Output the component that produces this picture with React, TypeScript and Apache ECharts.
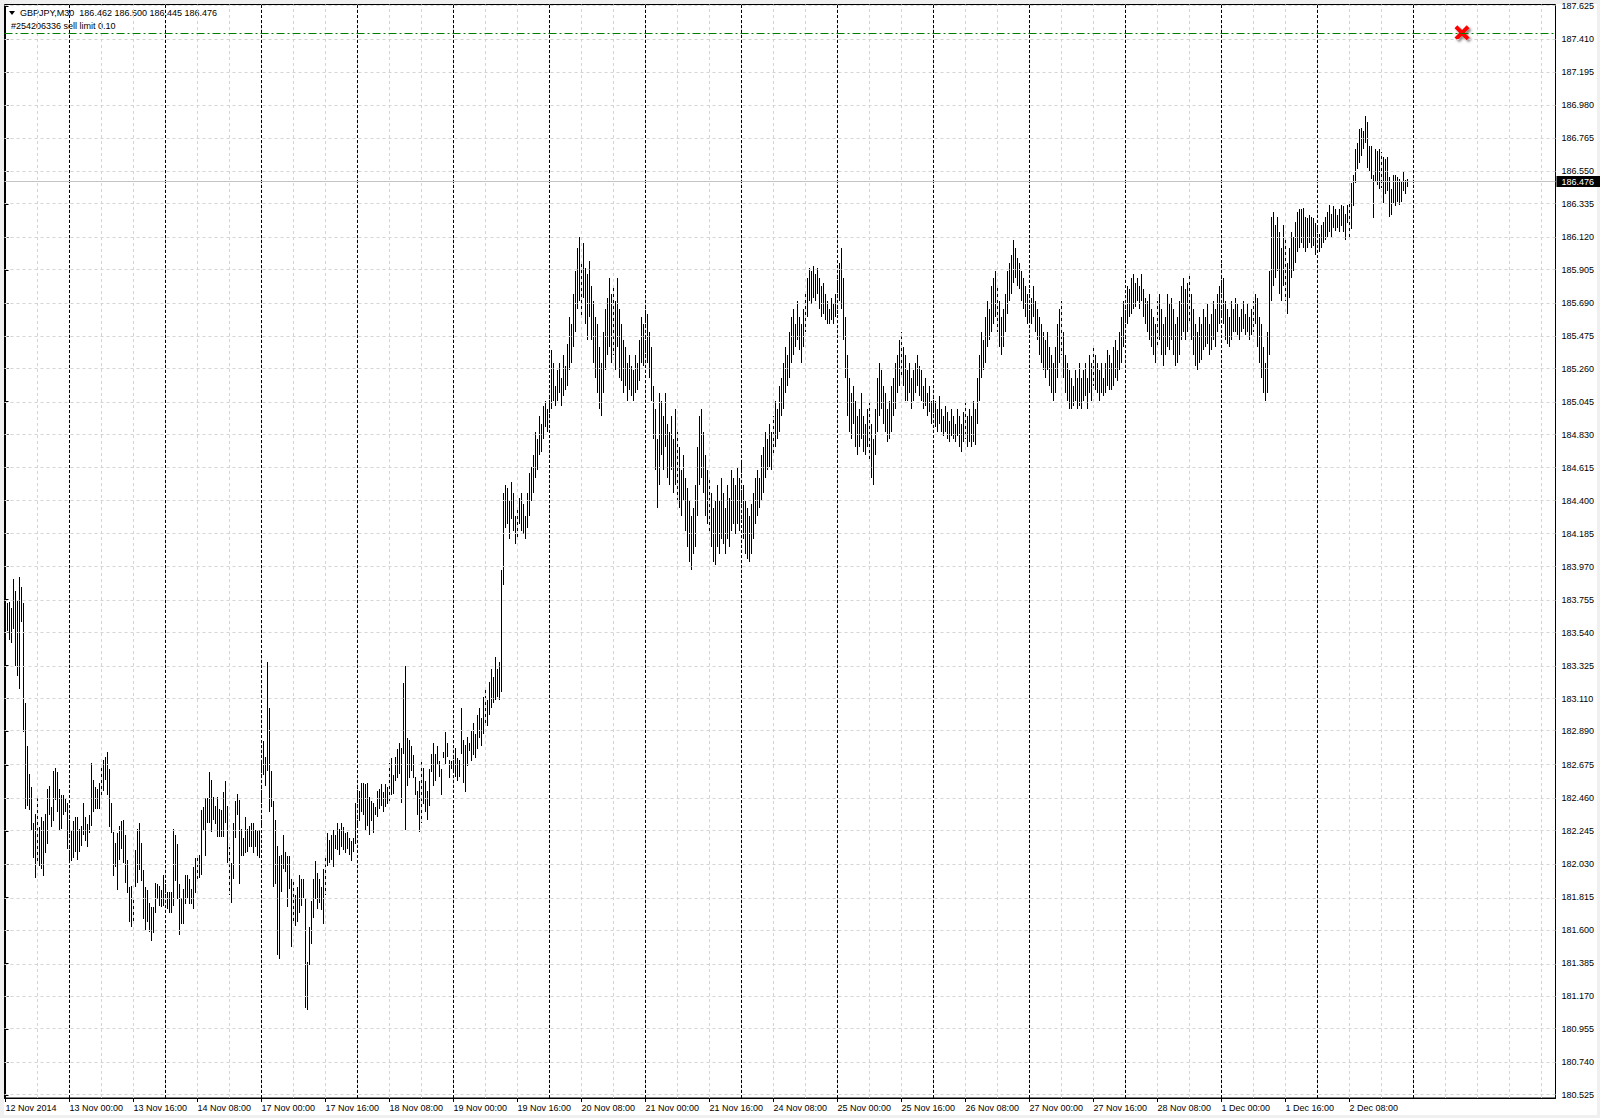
import React, { useEffect, useRef } from "react";
import * as echarts from "echarts";

// ---- data: high / low of each M30 bar (GBPJPY), bar index 0 = 12 Nov 2014 08:00 ----
const highs = [
  183.68,183.73,183.74,183.70,183.89,183.81,183.75,183.90,183.84,183.73,
  183.08,182.80,182.62,182.53,182.30,182.36,182.48,182.27,182.34,182.31,
  182.36,182.52,182.54,182.40,182.64,182.66,182.63,182.52,182.48,182.48,
  182.46,182.43,182.37,182.25,182.31,182.34,182.34,182.26,182.28,182.43,
  182.34,182.29,182.35,182.69,182.58,182.53,182.52,182.56,182.66,182.71,
  182.73,182.76,182.65,182.43,182.24,182.17,182.23,182.28,182.31,182.32,
  182.22,182.06,181.88,181.89,181.81,182.12,182.26,182.30,182.17,181.99,
  181.88,181.86,181.78,181.75,181.75,181.91,181.90,181.89,181.86,181.96,
  181.90,181.85,181.85,181.85,182.26,182.22,182.16,181.90,181.81,181.87,
  181.96,181.96,181.93,181.87,182.01,182.07,182.09,182.09,182.38,182.40,
  182.46,182.46,182.63,182.58,182.47,182.41,182.47,182.39,182.38,182.50,
  182.57,182.41,182.14,182.04,182.30,182.44,182.49,182.45,182.26,182.20,
  182.34,182.26,182.28,182.30,182.30,182.25,182.25,182.25,182.71,182.83,
  182.73,183.35,183.05,182.64,182.44,182.32,182.15,182.08,182.09,182.22,
  182.11,182.08,182.08,181.93,181.93,181.83,181.88,181.96,181.93,181.93,
  181.81,181.39,181.62,181.79,181.93,182.05,181.97,181.93,181.88,182.00,
  182.09,182.23,182.19,182.22,182.25,182.22,182.30,182.26,182.30,182.27,
  182.23,182.24,182.20,182.18,182.20,182.43,182.53,182.51,182.56,182.56,
  182.55,182.56,182.47,182.44,182.43,182.40,182.51,182.52,182.55,182.50,
  182.55,182.53,182.69,182.72,182.61,182.73,182.78,182.82,182.79,183.21,
  183.32,182.85,182.84,182.80,182.74,182.60,182.51,182.57,182.71,182.66,
  182.57,182.51,182.65,182.75,182.82,182.75,182.80,182.70,182.65,182.76,
  182.89,182.82,182.71,182.70,182.75,182.79,182.72,182.71,183.05,182.84,
  182.81,182.86,182.82,182.90,182.95,182.88,183.00,183.05,182.98,183.12,
  183.18,183.10,183.22,183.30,183.25,183.38,183.30,183.35,183.95,184.45,
  184.50,184.48,184.40,184.52,184.45,184.30,184.35,184.42,184.45,184.38,
  184.30,184.45,184.58,184.62,184.70,184.85,184.80,184.95,184.90,185.02,
  185.05,185.00,185.12,185.38,185.30,185.15,185.25,185.30,185.20,185.35,
  185.28,185.42,185.60,185.55,185.75,185.90,186.05,186.12,185.95,186.08,
  185.92,185.88,185.96,185.80,185.70,185.60,185.55,185.40,185.30,185.50,
  185.65,185.72,185.85,185.75,185.80,185.70,185.85,185.65,185.55,185.45,
  185.40,185.30,185.35,185.28,185.25,185.35,185.30,185.45,185.60,185.55,
  185.70,185.62,185.50,185.40,185.15,185.00,184.80,185.10,185.05,184.95,
  185.10,184.90,184.85,184.95,184.80,185.00,184.85,184.75,184.60,184.70,
  184.55,184.48,184.40,184.30,184.35,184.50,184.75,184.95,185.00,184.85,
  184.70,184.60,184.55,184.45,184.35,184.40,184.50,184.40,184.55,184.45,
  184.35,184.50,184.42,184.60,184.55,184.50,184.62,184.55,184.65,184.50,
  184.40,184.35,184.30,184.38,184.45,184.55,184.60,184.55,184.70,184.75,
  184.85,184.80,184.90,184.85,184.95,185.05,185.00,185.15,185.20,185.30,
  185.40,185.35,185.50,185.60,185.65,185.55,185.70,185.60,185.55,185.65,
  185.75,185.85,185.92,185.90,185.93,185.88,185.92,185.85,185.80,185.82,
  185.75,185.70,185.65,185.72,185.68,185.75,185.85,185.95,186.05,185.85,
  185.60,185.35,185.20,185.10,185.15,185.05,184.95,185.00,185.10,184.95,
  184.90,185.00,185.05,184.90,184.80,185.00,185.20,185.30,185.25,185.15,
  185.10,185.00,185.05,185.15,185.20,185.30,185.35,185.45,185.50,185.40,
  185.35,185.25,185.30,185.20,185.25,185.30,185.35,185.28,185.25,185.15,
  185.20,185.10,185.15,185.05,185.10,185.05,185.00,185.08,185.00,184.95,
  185.02,184.98,184.92,185.00,184.95,184.90,185.00,184.95,184.90,184.98,
  185.05,184.95,185.00,184.95,185.05,185.00,185.20,185.35,185.50,185.45,
  185.60,185.70,185.65,185.80,185.85,185.90,185.80,185.70,185.60,185.65,
  185.75,185.90,185.95,186.00,186.10,186.05,185.98,185.95,185.90,185.85,
  185.80,185.75,185.78,185.72,185.80,185.70,185.65,185.60,185.55,185.50,
  185.45,185.50,185.40,185.35,185.30,185.40,185.55,185.65,185.70,185.50,
  185.35,185.30,185.25,185.20,185.15,185.25,185.20,185.30,185.20,185.25,
  185.30,185.20,185.35,185.30,185.40,185.35,185.30,185.25,185.30,185.20,
  185.30,185.38,185.35,185.30,185.40,185.45,185.38,185.50,185.60,185.70,
  185.72,185.80,185.78,185.85,185.88,185.82,185.85,185.80,185.88,185.78,
  185.72,185.70,185.75,185.65,185.60,185.55,185.70,185.75,185.65,185.55,
  185.60,185.75,185.68,185.72,185.65,185.55,185.60,185.70,185.80,185.85,
  185.78,185.82,185.87,185.75,185.65,185.55,185.50,185.60,185.55,185.65,
  185.60,185.68,185.55,185.62,185.70,185.65,185.75,185.80,185.95,185.85,
  185.70,185.65,185.60,185.70,185.65,185.72,185.68,185.60,185.65,185.70,
  185.62,185.68,185.60,185.65,185.70,185.75,185.72,185.60,185.55,185.40,
  185.30,185.50,185.90,186.25,186.28,186.20,186.25,186.15,186.05,186.20,
  186.10,185.95,186.05,186.15,186.12,186.22,186.28,186.30,186.30,186.31,
  186.25,186.24,186.26,186.25,186.24,186.21,186.18,186.14,186.20,186.22,
  186.25,186.28,186.33,186.27,186.32,186.30,186.26,186.30,186.33,186.32,
  186.27,186.33,186.34,186.47,186.52,186.69,186.73,186.82,186.83,186.81,
  186.91,186.87,186.71,186.71,186.52,186.69,186.68,186.69,186.67,186.64,
  186.63,186.64,186.51,186.43,186.52,186.52,186.51,186.50,186.48,186.55,
  186.49,186.50,
];

const lows = [
  183.30,183.55,183.49,183.47,183.56,183.32,183.26,183.17,183.61,182.89,
  182.39,182.41,182.38,182.25,182.07,181.94,182.03,182.02,182.00,181.95,
  182.10,182.16,182.35,182.27,182.31,182.45,182.37,182.25,182.26,182.35,
  182.37,182.13,182.05,182.05,182.07,182.11,182.06,182.11,182.15,182.22,
  182.18,182.14,182.23,182.28,182.37,182.39,182.39,182.39,182.46,182.51,
  182.58,182.48,182.27,182.23,181.95,182.01,181.86,182.06,182.13,182.04,
  181.91,181.84,181.65,181.62,181.65,181.88,181.91,181.99,181.92,181.67,
  181.60,181.65,181.59,181.53,181.58,181.71,181.80,181.76,181.75,181.76,
  181.75,181.74,181.71,181.71,181.76,181.92,181.80,181.57,181.64,181.64,
  181.77,181.81,181.77,181.77,181.74,181.84,181.93,181.94,181.96,182.25,
  182.08,182.30,182.30,182.24,182.32,182.29,182.21,182.21,182.21,182.21,
  182.30,182.04,181.83,181.78,181.93,182.20,182.35,181.90,182.08,182.08,
  182.10,182.11,182.14,182.14,182.10,182.14,182.08,182.07,182.27,182.61,
  182.54,182.64,182.37,182.40,181.88,181.90,181.44,181.41,181.85,182.00,
  181.98,181.75,181.87,181.49,181.66,181.63,181.65,181.71,181.76,181.81,
  181.09,181.08,181.37,181.51,181.68,181.80,181.74,181.78,181.73,181.64,
  181.83,182.02,182.04,182.06,182.01,182.13,182.12,182.09,182.14,182.12,
  182.10,182.13,182.09,182.05,182.11,182.16,182.27,182.31,182.37,182.35,
  182.25,182.28,182.22,182.31,182.23,182.35,182.34,182.39,182.41,182.37,
  182.40,182.42,182.43,182.48,182.49,182.57,182.59,182.62,182.43,182.75,
  182.25,182.54,182.59,182.64,182.59,182.48,182.35,182.24,182.30,182.42,
  182.37,182.32,182.41,182.63,182.54,182.57,182.68,182.60,182.48,182.72,
  182.68,182.73,182.59,182.65,182.62,182.60,182.57,182.60,182.75,182.56,
  182.50,182.67,182.77,182.70,182.74,182.72,182.78,182.85,182.80,182.88,
  182.95,182.93,183.00,183.05,183.08,183.10,183.12,183.10,183.15,183.85,
  184.22,184.25,184.15,184.28,184.20,184.12,184.15,184.25,184.20,184.18,
  184.15,184.22,184.30,184.40,184.45,184.55,184.60,184.70,184.72,184.80,
  184.88,184.85,184.95,185.00,185.05,185.02,185.05,185.10,185.02,185.08,
  185.12,185.15,185.25,185.30,185.40,185.50,185.65,185.70,185.60,185.72,
  185.55,185.45,185.60,185.45,185.30,185.20,185.10,185.00,184.95,185.10,
  185.25,185.35,185.40,185.30,185.35,185.25,185.40,185.20,185.18,185.10,
  185.15,185.05,185.12,185.08,185.05,185.10,185.12,185.18,185.30,185.28,
  185.35,185.30,185.20,185.05,184.80,184.60,184.35,184.50,184.70,184.60,
  184.75,184.55,184.50,184.60,184.45,184.50,184.40,184.35,184.30,184.40,
  184.20,184.10,184.00,183.95,184.05,184.10,184.30,184.50,184.55,184.45,
  184.30,184.25,184.20,184.10,184.00,183.98,184.10,184.05,184.15,184.12,
  184.05,184.15,184.10,184.20,184.25,184.18,184.25,184.20,184.28,184.15,
  184.05,184.02,184.00,184.05,184.15,184.25,184.30,184.35,184.40,184.45,
  184.55,184.60,184.62,184.60,184.70,184.75,184.80,184.85,184.95,185.00,
  185.10,185.15,185.20,185.30,185.35,185.40,185.45,185.38,185.30,185.40,
  185.50,185.60,185.70,185.68,185.72,185.70,185.75,185.65,185.60,185.62,
  185.58,185.55,185.55,185.58,185.55,185.60,185.62,185.70,185.65,185.45,
  185.20,184.95,184.85,184.80,184.90,184.75,184.70,184.75,184.80,184.72,
  184.70,184.75,184.65,184.55,184.50,184.70,184.85,184.95,185.00,184.90,
  184.85,184.78,184.80,184.85,184.95,185.00,185.10,185.15,185.20,185.15,
  185.05,185.05,185.10,185.00,185.05,185.10,185.15,185.08,185.05,185.00,
  185.02,184.95,184.98,184.90,184.92,184.88,184.85,184.90,184.85,184.82,
  184.85,184.80,184.78,184.82,184.80,184.78,184.82,184.75,184.72,184.78,
  184.80,184.75,184.78,184.75,184.78,184.76,184.90,185.05,185.20,185.25,
  185.30,185.40,185.45,185.50,185.55,185.60,185.50,185.40,185.35,185.40,
  185.50,185.62,185.70,185.75,185.82,185.85,185.80,185.78,185.70,185.65,
  185.60,185.55,185.58,185.55,185.60,185.50,185.45,185.35,185.30,185.25,
  185.20,185.25,185.15,185.10,185.05,185.10,185.20,185.30,185.35,185.20,
  185.10,185.05,185.00,185.00,185.02,185.05,185.00,185.02,185.00,185.05,
  185.08,185.00,185.10,185.05,185.15,185.12,185.10,185.05,185.10,185.08,
  185.10,185.15,185.12,185.12,185.15,185.20,185.18,185.25,185.30,185.40,
  185.45,185.55,185.60,185.62,185.65,185.66,185.70,185.65,185.70,185.60,
  185.55,185.50,185.45,185.40,185.35,185.30,185.40,185.45,185.35,185.28,
  185.35,185.40,185.38,185.45,185.35,185.28,185.30,185.35,185.45,185.50,
  185.45,185.50,185.55,185.45,185.35,185.28,185.25,185.30,185.32,185.38,
  185.40,185.42,185.35,185.38,185.45,185.40,185.50,185.55,185.60,185.55,
  185.45,185.42,185.40,185.45,185.50,185.50,185.48,185.45,185.50,185.52,
  185.48,185.50,185.45,185.48,185.50,185.55,185.40,185.30,185.20,185.10,
  185.05,185.10,185.35,185.70,185.80,185.85,185.90,185.75,185.70,185.80,
  185.70,185.62,185.72,185.85,185.90,185.95,186.02,186.05,186.08,186.05,
  186.02,186.05,186.08,186.05,186.06,186.00,186.05,186.02,186.05,186.08,
  186.10,186.12,186.15,186.12,186.18,186.16,186.18,186.15,186.19,186.15,
  186.10,186.21,186.10,186.17,186.32,186.47,186.56,186.60,186.65,186.69,
  186.73,186.57,186.55,186.50,186.24,186.48,186.46,186.43,186.44,186.34,
  186.40,186.42,186.25,186.26,186.34,186.32,186.35,186.33,186.35,186.42,
  186.40,186.445,
];

// time-axis labels (bar index -> text)
const xLabelIndex = [0, 32, 64, 96, 128, 160, 192, 224, 256, 288, 320, 352, 384, 416, 448, 480, 512, 544, 576, 608, 640, 672];
const xLabelText = [
  "12 Nov 2014", "13 Nov 00:00", "13 Nov 16:00", "14 Nov 08:00", "17 Nov 00:00", "17 Nov 16:00",
  "18 Nov 08:00", "19 Nov 00:00", "19 Nov 16:00", "20 Nov 08:00", "21 Nov 00:00", "21 Nov 16:00",
  "24 Nov 08:00", "25 Nov 00:00", "25 Nov 16:00", "26 Nov 08:00", "27 Nov 00:00", "27 Nov 16:00",
  "28 Nov 08:00", "1 Dec 00:00", "1 Dec 16:00", "2 Dec 08:00",
];
// light vertical grid (every 8 hours) and day separators (bar index)
const vGridIndex = [16, 32, 48, 64, 80, 96, 112, 128, 144, 160, 176, 192, 208, 224, 240, 256, 272, 288, 304, 320,
  336, 352, 368, 384, 400, 416, 432, 448, 464, 480, 496, 512, 528, 544, 560, 576, 592, 608, 624, 640,
  656, 672, 688, 704, 720, 736, 752, 768];
const daySeparatorIndex = [32, 80, 128, 176, 224, 272, 320, 368, 416, 464, 512, 560, 608, 656, 704];

// price axis
const yTickValues = [187.625, 187.41, 187.195, 186.98, 186.765, 186.55, 186.335, 186.12, 185.905, 185.69, 185.475,
  185.26, 185.045, 184.83, 184.615, 184.4, 184.185, 183.97, 183.755, 183.54, 183.325, 183.11, 182.895, 182.675,
  182.46, 182.245, 182.03, 181.815, 181.6, 181.385, 181.17, 180.955, 180.74, 180.525];
const yTickLabels = ["187.625", "187.410", "187.195", "186.980", "186.765", "186.550", "186.335", "186.120",
  "185.905", "185.690", "185.475", "185.260", "185.045", "184.830", "184.615", "184.400", "184.185", "183.970",
  "183.755", "183.540", "183.325", "183.110", "182.890", "182.675", "182.460", "182.245", "182.030", "181.815",
  "181.600", "181.385", "181.170", "180.955", "180.740", "180.525"];
const yMin = 180.5054;
const yMax = 187.6348;

const orderPrice = 187.45;
const bidPrice = 186.476;
const bidLabel = "186.476";
const deleteMarker = [728.25, 187.45];
const headerText = "GBPJPY,M30  186.462 186.500 186.445 186.476";
const orderText = "#254206336 sell limit 0.10";

const FONT = "Liberation Sans, Arial, sans-serif";

export default function App() {
  const ref = useRef<HTMLDivElement>(null);

  useEffect(() => {
    if (!ref.current) return;
    const chart = echarts.init(ref.current, undefined, { renderer: "svg" });
    const bars = highs.map((h, i) => [i, lows[i], h]);

    const gridLine = { color: "#d4d4d4", type: [3, 3], width: 1 };
    const markData: any[] = [
      ...vGridIndex.map((i) => ({ xAxis: i, lineStyle: gridLine })),
      ...yTickValues.map((v) => ({ yAxis: v, lineStyle: gridLine })),
      ...daySeparatorIndex.map((i) => ({ xAxis: i, lineStyle: { color: "#000", type: [3, 2], width: 1 } })),
    ];

    const option: any = {
      animation: false,
      backgroundColor: "#ffffff",
      grid: {
        left: 4.5, top: 4.5, width: 1551, height: 1093.5,
        show: true, borderColor: "#000", borderWidth: 1, backgroundColor: "transparent",
      },
      xAxis: {
        type: "value", min: -0.5, max: 775,
        axisLine: { show: true, lineStyle: { color: "#000", width: 1 } },
        axisTick: { show: true, customValues: xLabelIndex, length: 4, lineStyle: { color: "#000" } },
        axisLabel: {
          customValues: xLabelIndex,
          formatter: (v: number) => {
            const k = xLabelIndex.indexOf(Math.round(v));
            return k >= 0 ? xLabelText[k] : "";
          },
          align: "left", color: "#000", fontSize: 9, fontFamily: FONT, margin: 5,
        },
        splitLine: { show: false },
      },
      yAxis: {
        type: "value", position: "right", min: yMin, max: yMax,
        axisLine: { show: true, lineStyle: { color: "#000", width: 1 } },
        axisTick: { show: true, customValues: yTickValues, length: 3, lineStyle: { color: "#000" } },
        axisLabel: {
          customValues: yTickValues,
          formatter: (v: number) => {
            let best = 0;
            yTickValues.forEach((t, k) => { if (Math.abs(t - v) < Math.abs(yTickValues[best] - v)) best = k; });
            return yTickLabels[best];
          },
          color: "#000", fontSize: 9, fontFamily: FONT, margin: 6,
        },
        splitLine: { show: false },
      },
      series: [
        {
          type: "line", data: [[0, 183.5]], symbol: "none", lineStyle: { opacity: 0 }, silent: true, z: 1,
          markLine: { symbol: ["none", "none"], silent: true, label: { show: false }, data: markData, animation: false },
        },
        {
          type: "custom", z: 2, silent: true,
          encode: { x: 0, y: [1, 2] },
          data: bars,
          renderItem: (params: any, api: any) => {
            const i = api.value(0);
            const lo = api.coord([i, api.value(1)]);
            const hi = api.coord([i, api.value(2)]);
            const x = Math.floor(hi[0]);
            const y0 = Math.round(hi[1]);
            const y1 = Math.round(lo[1]);
            return { type: "rect", shape: { x, y: y0, width: 1, height: Math.max(1, y1 - y0) }, style: { fill: "#000" } };
          },
        },
        {
          type: "scatter", z: 3, silent: true,
          data: [deleteMarker],
          symbol: "path://M0,3 L3,0 L8,5 L13,0 L16,3 L11,8 L16,13 L13,16 L8,11 L3,16 L0,13 L5,8 Z",
          symbolSize: [15, 15],
          itemStyle: { color: "#ff0000", opacity: 1, shadowBlur: 2, shadowColor: "rgba(60,60,60,0.6)", shadowOffsetX: 2, shadowOffsetY: 2 },
          markLine: {
            symbol: ["none", "none"], silent: true, animation: false,
            data: [
              { yAxis: orderPrice, lineStyle: { color: "#008000", type: [8, 3, 2, 3], width: 1 }, label: { show: false } },
              {
                yAxis: bidPrice, lineStyle: { color: "#c4c4c4", type: "solid", width: 1 },
                label: {
                  show: true, position: "end", formatter: bidLabel, color: "#fff", backgroundColor: "#000",
                  padding: [1, 6, 1, 5], fontSize: 9, fontFamily: FONT, distance: 1,
                },
              },
            ],
          },
        },
      ],
      graphic: [
        { type: "rect", shape: { x: 0, y: 0, width: 1600, height: 4 }, style: { fill: "#f0f0f0" }, silent: true },
        { type: "rect", shape: { x: 0, y: 0, width: 4, height: 1118 }, style: { fill: "#f0f0f0" }, silent: true },
        { type: "rect", shape: { x: 1597, y: 0, width: 3, height: 1118 }, style: { fill: "#f0f0f0" }, silent: true },
        { type: "rect", shape: { x: 0, y: 1115, width: 1600, height: 3 }, style: { fill: "#f0f0f0" }, silent: true },
        { type: "polygon", shape: { points: [[9, 11], [15, 11], [12, 15]] }, style: { fill: "#000" }, silent: true },
        {
          type: "text", x: 20, y: 13, silent: true,
          style: { text: headerText, fill: "#000", fontSize: 9, fontFamily: FONT, verticalAlign: "middle", align: "left" },
        },
        {
          type: "text", x: 11, y: 26, silent: true,
          style: { text: orderText, fill: "#000", fontSize: 9, fontFamily: FONT, verticalAlign: "middle", align: "left" },
        },
      ],
    };
    chart.setOption(option);
    return () => chart.dispose();
  }, []);

  return <div ref={ref} style={{ position: "fixed", left: 0, top: 0, width: 1600, height: 1118, background: "#fff" }} />;
}
